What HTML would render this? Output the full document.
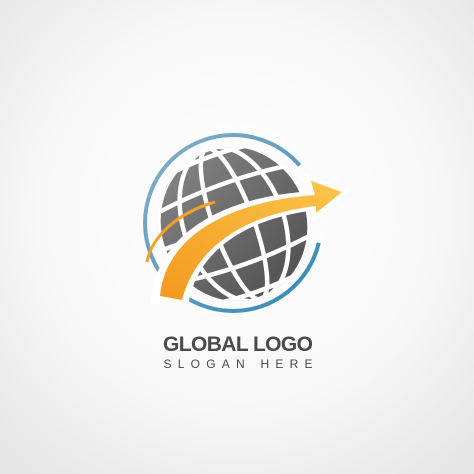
<!DOCTYPE html>
<html><head><meta charset="utf-8"><style>
html,body{margin:0;padding:0;width:474px;height:474px;overflow:hidden;background:#f4f4f4}
</style></head><body>
<svg width="474" height="474" viewBox="0 0 474 474">
<defs>
<radialGradient id="bg" cx="50%" cy="45%" r="70%"><stop offset="0" stop-color="#ffffff"/><stop offset="0.6" stop-color="#f7f7f7"/><stop offset="1" stop-color="#e6e6e6"/></radialGradient>
<linearGradient id="gl" x1="0" y1="0" x2="1" y2="1"><stop offset="0" stop-color="#8a8a8a"/><stop offset="1" stop-color="#4a4a4a"/></linearGradient>
<linearGradient id="ring" x1="0" y1="0" x2="1" y2="1"><stop offset="0" stop-color="#8ab0c8"/><stop offset="1" stop-color="#2f88b8"/></linearGradient>
<linearGradient id="ar" x1="0" y1="1" x2="1" y2="0"><stop offset="0" stop-color="#f29a1f"/><stop offset="1" stop-color="#fcc44a"/></linearGradient>
<clipPath id="gc"><circle cx="234" cy="224" r="77"/></clipPath>
</defs>
<rect width="474" height="474" fill="url(#bg)"/>
<circle cx="233" cy="223" r="88" fill="none" stroke="url(#ring)" stroke-width="4" stroke-dasharray="470 83" stroke-dashoffset="-20"/>
<g clip-path="url(#gc)">
<circle cx="234" cy="224" r="77" fill="url(#gl)"/>
<g fill="none" stroke="#fff" stroke-width="4.5" transform="rotate(-20 234 224)">
<ellipse cx="234" cy="224" rx="20" ry="80"/>
<ellipse cx="234" cy="224" rx="50" ry="80"/>
<ellipse cx="234" cy="224" rx="75" ry="80"/>
<line x1="150" y1="224" x2="320" y2="224"/>
<path d="M150 190 Q234 175 320 190"/><path d="M150 258 Q234 273 320 258"/>
<path d="M160 160 Q234 145 310 160"/><path d="M160 288 Q234 303 310 288"/>
</g>
</g>
<path d="M155 300 C160 240 220 200 315 195 L310 180 L342 192 L316 214 L316 206 C240 215 195 250 185 300 Z" fill="#fff" stroke="#fff" stroke-width="8"/>
<path d="M160 296 C165 240 222 202 315 195 L311 181 L342 192 L316 213 L316 206 C240 215 195 250 182 300 Z" fill="url(#ar)"/>
<path d="M147 262 C152 235 180 212 215 202" fill="none" stroke="#f4a02a" stroke-width="3"/>
<text x="238" y="351" text-anchor="middle" font-family="Liberation Sans, sans-serif" font-weight="bold" font-size="21" fill="#4a4a4c" textLength="150">GLOBAL LOGO</text>
<text x="238" y="368" text-anchor="middle" font-family="Liberation Sans, sans-serif" font-size="12" fill="#4a4a4c" textLength="149" lengthAdjust="spacing">SLOGAN HERE</text>
</svg>
</body></html>
